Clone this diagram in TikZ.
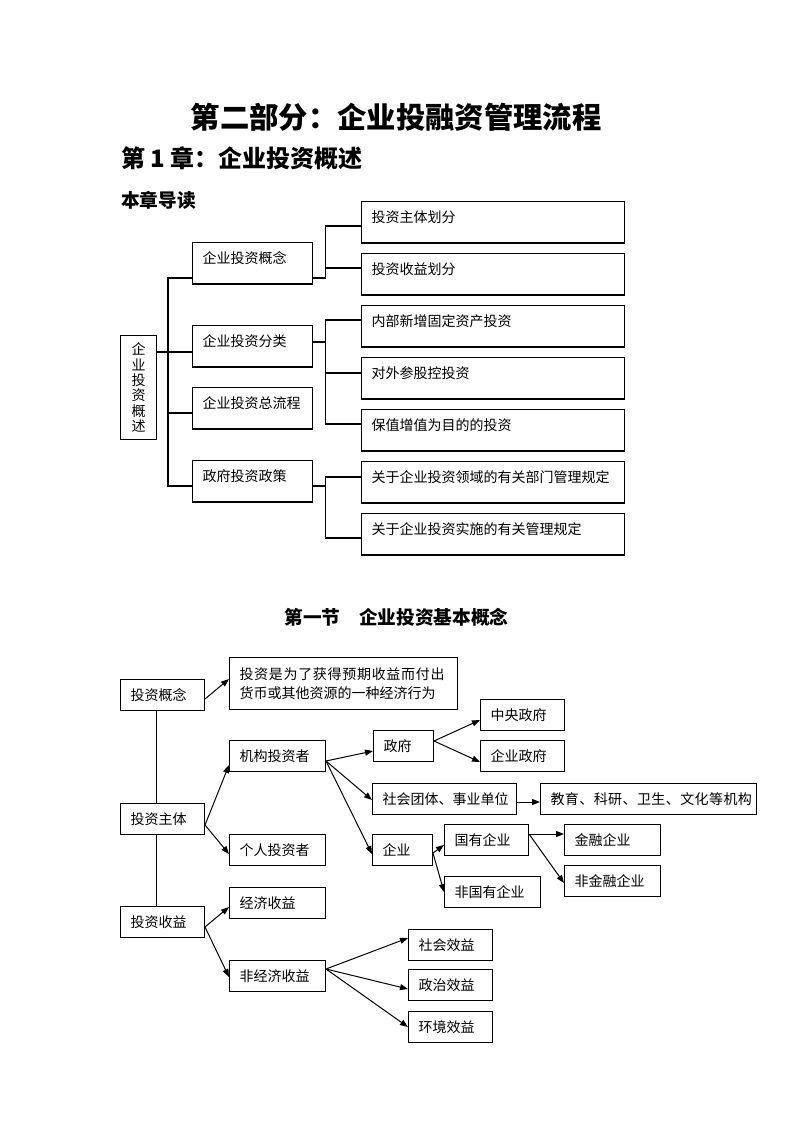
\documentclass[tikz,border=0pt]{standalone}
\usepackage{fontspec}
\setmainfont{Noto Sans CJK SC}
\usepackage{tikz}
\usetikzlibrary{arrows.meta}
\usetikzlibrary{calc}
\tikzstyle{catbox}=[draw,line width=0.9pt,anchor=north west,inner xsep=7.5pt,inner ysep=0pt,align=left,text height=16pt,text depth=15pt]
\tikzstyle{smallbox}=[draw,line width=0.75pt,anchor=north west,inner xsep=7.5pt,inner ysep=0pt,minimum height=23.25pt,align=left]
\tikzstyle{branch} = [draw,line width=0.9pt]
\tikzstyle{plainedge} = [draw,line width=0.75pt]
\tikzstyle{arrowedge} = [draw,line width=0.75pt,-{Triangle[length=6pt,width=4.5pt]}]

\begin{document}
\begin{tikzpicture}[x=0.75pt,y=-0.75pt,font=\fontsize{10.5pt}{14pt}\selectfont]
\useasboundingbox (0,0) rectangle (793,1122);

% headings
    \node[font=\fontsize{22pt}{26pt}\selectfont\bfseries] (title) at (396,117) {第二部分：企业投融资管理流程};
    \node[anchor=west,inner sep=0pt,font=\fontsize{18pt}{22pt}\selectfont\bfseries] (chap) at (121,158) {第 1 章：企业投资概述};
    \node[anchor=west,inner sep=0pt,font=\fontsize{14pt}{17pt}\selectfont\bfseries] (guide) at (121,200) {本章导读};

% chapter overview tree
    \node[draw,line width=0.9pt,anchor=north west,minimum width=27pt,minimum height=78pt,inner sep=0pt,align=center,font=\fontsize{10.5pt}{11.5pt}\selectfont] (root) at (120,335) {企\\业\\投\\资\\概\\述};

  \foreach \pos/\name/\label in {{(192,242)/G1/企业投资概念}, {(192,325)/G2/企业投资分类}, {(192,387)/G3/企业投资总流程}, {(192,460)/G4/政府投资政策}}
        \node[catbox,text width=75pt] (\name) at \pos {\label};

  \foreach \pos/\name/\label in {{(361,201)/S1/投资主体划分}, {(361,253)/S2/投资收益划分}, {(361,305)/S3/内部新增固定资产投资}, {(361,357)/S4/对外参股控投资}, {(361,409)/S5/保值增值为目的的投资}, {(361,461)/S6/关于企业投资领域的有关部门管理规定}, {(361,513)/S7/关于企业投资实施的有关管理规定}}
        \node[catbox,text width=182.25pt] (\name) at \pos {\label};

    % trunk from the root box to the four parts
    \draw[branch] ($(root.north east)+(0,17)$) -- ($(G2.north west)+(0,27)$);
   \foreach \name/\dy in {G1/36, G3/26, G4/26}
          \draw[branch] ($(G2.north west)+(-24,27)$) |- ($(\name.north west)+(0,\dy)$);

    % brackets to the sub items
   \foreach \source/\sy/\dest/\dy in {G1/36/S1/25, G1/36/S2/15, G2/17/S3/15, G2/17/S4/16, G2/17/S5/15, G4/26/S6/16, G4/26/S7/25}
          \draw[branch] ($(\source.north east)+(0,\sy)$) -- ++(12,0) |- ($(\dest.north west)+(0,\dy)$);

% section 1
    \node[font=\fontsize{14pt}{17pt}\selectfont\bfseries] (sec) at (396.5,617) {第一节　企业投资基本概念};

    \node[smallbox,text width=156pt,minimum height=39pt,font=\fontsize{10.5pt}{14.5pt}\selectfont] (def) at (229,657) {{\addfontfeature{LetterSpace=5}投资是为了获得预期收益而付出}\\货币或其他资源的一种经济行为};
    \node[smallbox,text width=147pt] (jy) at (540,783) {\addfontfeature{LetterSpace=3}教育、科研、卫生、文化等机构};

  \foreach \pos/\name/\w/\label in {{(120,679)/gn/48pt/投资概念}, {(120,803)/zt/48pt/投资主体}, {(120,906)/sy/48pt/投资收益},
        {(229,740)/jg/57pt/机构投资者}, {(229,834)/gr/57pt/个人投资者}, {(229,887)/jj/57pt/经济收益}, {(229,960)/fj/57pt/非经济收益},
        {(373,730)/zf/30pt/政府}, {(372,783)/sh/93pt/社会团体、事业单位}, {(372,834)/qy/30pt/企业},
        {(480,699)/zy/48pt/中央政府}, {(480,740)/qz/48pt/企业政府}, {(444,824)/gy/48pt/国有企业}, {(444,876)/fg/57pt/非国有企业},
        {(564,824)/jr/57pt/金融企业}, {(564,865)/fjr/57pt/非金融企业},
        {(408,929)/shx/48pt/社会效益}, {(408,969)/zz/48pt/政治效益}, {(408,1011)/hj/48pt/环境效益}}
        \node[smallbox,text width=\w] (\name) at \pos {\label};

    % spine on the left
    \draw[plainedge] ($(gn.south west)+(36,0)$) -- ($(zt.north west)+(36,0)$);
    \draw[plainedge] ($(zt.south west)+(36,0)$) -- ($(sy.north west)+(36,0)$);

    % Connect boxes with arrows
   \foreach \source/\sy/\dest/\dy in {gn/20/def/22, zt/22/jg/25, zt/22/gr/20, jg/21/zf/21, jg/21/sh/17, jg/21/qy/20, zf/11/zy/21, zf/11/qz/22, sh/19/jy/19, qy/19/gy/21, qy/19/fg/16, gy/10/jr/10, gy/10/fjr/18, sy/21/jj/20, sy/21/fj/17, fj/9/shx/9, fj/9/zz/20, fj/9/hj/16}
          \draw[arrowedge] ($(\source.north east)+(0,\sy)$) -- ($(\dest.north west)+(0,\dy)$);

\end{tikzpicture}
\end{document}
